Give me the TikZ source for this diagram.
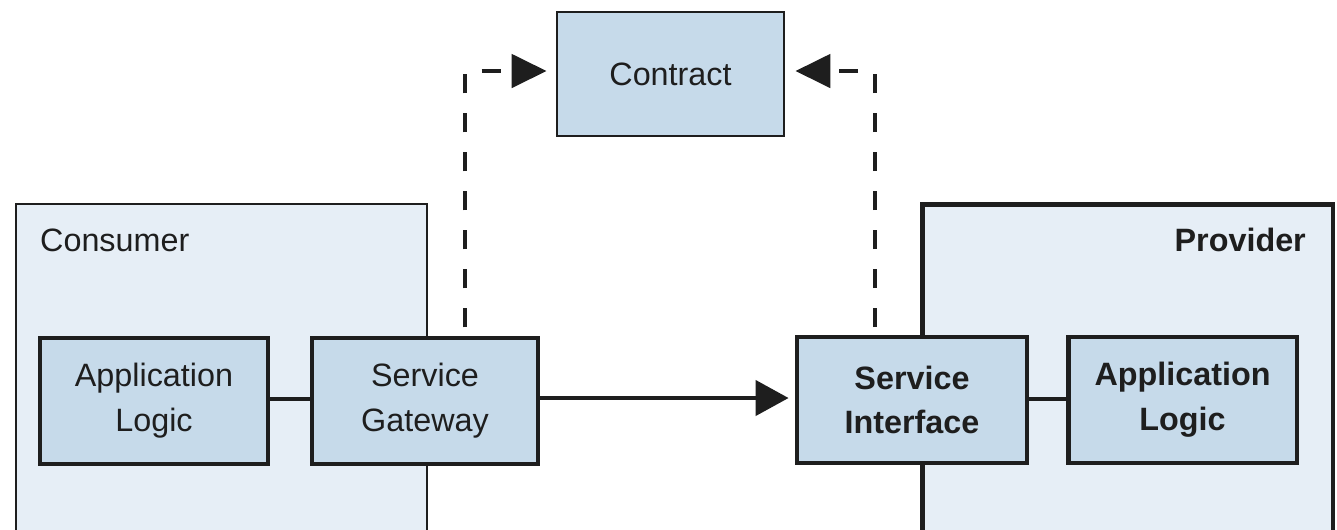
\documentclass[tikz,border=0pt]{standalone}
\usepackage{fontspec}
\setmainfont{Liberation Sans}
\usetikzlibrary{arrows.meta}
\definecolor{outerfill}{HTML}{E6EEF6}
\definecolor{innerfill}{HTML}{C6DAEA}
\definecolor{ink}{HTML}{1E1E1E}
\begin{document}
\begin{tikzpicture}[x=0.02cm,y=-0.02cm,
  every node/.style={font=\fontsize{18.4}{25.5}\selectfont, text=ink, align=center},
  outerbox/.style={draw=ink, fill=outerfill, minimum width=8.22cm, minimum height=7.12cm, inner sep=0pt},
  innerbox/.style={draw=ink, fill=innerfill, minimum height=2.52cm, inner sep=0pt, line width=2pt},
  boldbox/.style={innerbox, line width=2.8pt, font=\fontsize{18.4}{25.5}\selectfont\bfseries},
  conn/.style={draw=ink, line width=2.5pt},
  dashconn/.style={draw=ink, line width=2.8pt, dash pattern=on 0.38cm off 0.4cm, -{Triangle[length=0.7cm,width=0.66cm]}},
  solidarrow/.style={conn, -{Triangle[length=0.66cm,width=0.7cm]}, shorten >=0.12cm}
]
\useasboundingbox (0,0) rectangle (1337,529);
\clip (0,0) rectangle (1337,529);
\fill[white] (0,0) rectangle (1337,529);
% outer boxes
\node[outerbox, line width=1.1pt] (consumer) at (221.5,382) {};
\node[outerbox, line width=2.8pt] (provider) at (1127.5,382) {};
\node[anchor=west] (consumerlabel) at (34,240) {Consumer};
\node[anchor=east, font=\fontsize{18.4}{25.5}\selectfont\bfseries] (providerlabel) at (1312,240) {Provider};
% contract
\node[innerbox, minimum width=4.54cm, minimum height=2.48cm, line width=1.6pt] (contract) at (670.5,74) {Contract};
% inner boxes
\node[innerbox, minimum width=4.56cm] (al) at (154,401) {Application\\Logic};
\node[innerbox, minimum width=4.52cm] (sg) at (425,401) {Service\\Gateway};
\node[boldbox, minimum width=4.6cm] (si) at (912,400) {Service\\Interface};
\node[boldbox, minimum width=4.58cm] (ar) at (1182.5,400) {Application\\Logic};
% connectors
\draw[conn] (al.east |- 0,399) -- (sg.west |- 0,399);
\draw[conn] (si.east |- 0,399) -- (ar.west |- 0,399);
\draw[solidarrow] (sg.east |- 0,398) -- (si.west |- 0,398);
\coordinate (lc) at (465,71);
\coordinate (rc) at (875,71);
\draw[dashconn, shorten <=0.18cm, shorten >=0.18cm] (lc |- sg.north) -- (lc) -- (contract.west |- lc);
\draw[dashconn, shorten <=0.15cm, shorten >=0.2cm] (rc |- si.north) -- (rc) -- (contract.east |- rc);
\end{tikzpicture}
\end{document}
